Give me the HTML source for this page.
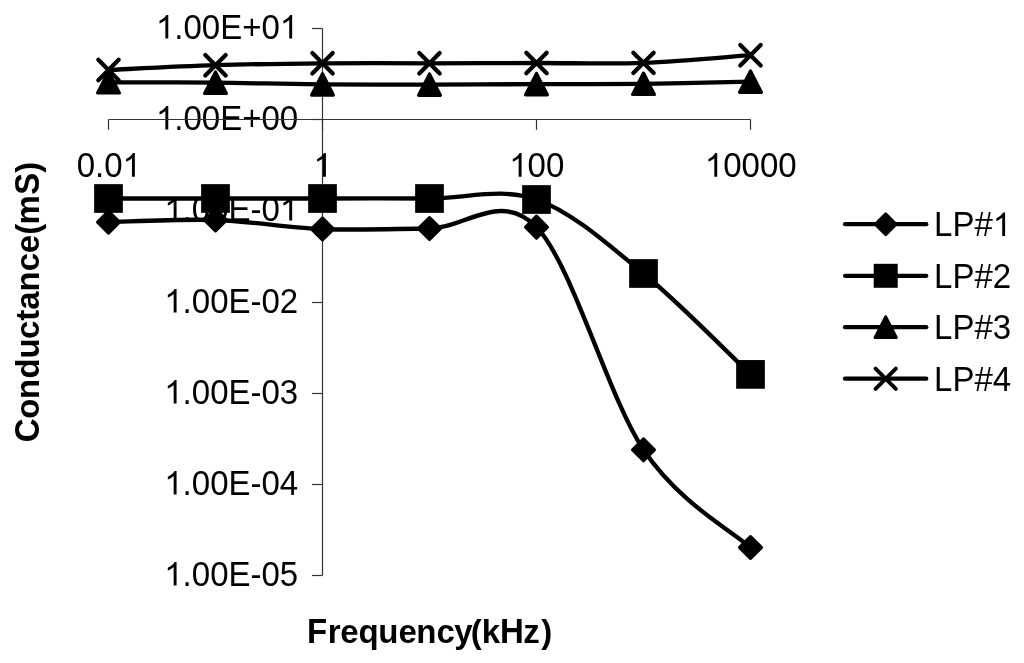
<!DOCTYPE html><html><head><meta charset="utf-8"><title>Conductance vs Frequency</title><style>
html,body{margin:0;padding:0;background:#fff;width:1024px;height:663px;overflow:hidden}
svg{display:block;will-change:transform}
text{font-family:"Liberation Sans",sans-serif;fill:#000;font-kerning:none}
path,rect{fill:#000}
.ax{stroke:#333;stroke-width:1.2;fill:none}
.ln{stroke:#000;fill:none;stroke-linejoin:round}
.m{stroke:#000;stroke-linejoin:round}
.x{stroke:#000;stroke-linecap:round;fill:none}
</style></head><body>
<svg width="1024" height="663" viewBox="0 0 1024 663">
<rect width="1024" height="663" fill="#fff" style="fill:#fff"/>
<g>
<text transform="translate(0,38.60) scale(1,1.040)" x="174.34 183.51 201.86 220.21 242.22 261.49" y="0" font-size="33">.00E+0</text><path d="M763,0L583,0L583,1147Q518,1085 412,1023Q305,961 220,930L220,1104Q371,1175 484,1276Q597,1377 644,1472L763,1472Z" transform="translate(155.98,38.60) scale(0.01611,-0.01611)"/><path d="M763,0L583,0L583,1147Q518,1085 412,1023Q305,961 220,930L220,1104Q371,1175 484,1276Q597,1377 644,1472L763,1472Z" transform="translate(279.85,38.60) scale(0.01611,-0.01611)"/>
<text transform="translate(0,129.60) scale(1,1.040)" x="174.34 183.51 201.86 220.21 242.22 261.49 279.85" y="0" font-size="33">.00E+00</text><path d="M763,0L583,0L583,1147Q518,1085 412,1023Q305,961 220,930L220,1104Q371,1175 484,1276Q597,1377 644,1472L763,1472Z" transform="translate(155.98,129.60) scale(0.01611,-0.01611)"/>
<text transform="translate(0,220.60) scale(1,1.040)" x="182.62 191.79 210.14 228.49 250.50 261.49" y="0" font-size="33">.00E-0</text><path d="M763,0L583,0L583,1147Q518,1085 412,1023Q305,961 220,930L220,1104Q371,1175 484,1276Q597,1377 644,1472L763,1472Z" transform="translate(164.27,220.60) scale(0.01611,-0.01611)"/><path d="M763,0L583,0L583,1147Q518,1085 412,1023Q305,961 220,930L220,1104Q371,1175 484,1276Q597,1377 644,1472L763,1472Z" transform="translate(279.85,220.60) scale(0.01611,-0.01611)"/>
<text transform="translate(0,312.60) scale(1,1.040)" x="182.62 191.79 210.14 228.49 250.50 261.49 279.85" y="0" font-size="33">.00E-02</text><path d="M763,0L583,0L583,1147Q518,1085 412,1023Q305,961 220,930L220,1104Q371,1175 484,1276Q597,1377 644,1472L763,1472Z" transform="translate(164.27,312.60) scale(0.01611,-0.01611)"/>
<text transform="translate(0,403.60) scale(1,1.040)" x="182.62 191.79 210.14 228.49 250.50 261.49 279.85" y="0" font-size="33">.00E-03</text><path d="M763,0L583,0L583,1147Q518,1085 412,1023Q305,961 220,930L220,1104Q371,1175 484,1276Q597,1377 644,1472L763,1472Z" transform="translate(164.27,403.60) scale(0.01611,-0.01611)"/>
<text transform="translate(0,494.60) scale(1,1.040)" x="182.62 191.79 210.14 228.49 250.50 261.49 279.85" y="0" font-size="33">.00E-04</text><path d="M763,0L583,0L583,1147Q518,1085 412,1023Q305,961 220,930L220,1104Q371,1175 484,1276Q597,1377 644,1472L763,1472Z" transform="translate(164.27,494.60) scale(0.01611,-0.01611)"/>
<text transform="translate(0,585.60) scale(1,1.040)" x="182.62 191.79 210.14 228.49 250.50 261.49 279.85" y="0" font-size="33">.00E-05</text><path d="M763,0L583,0L583,1147Q518,1085 412,1023Q305,961 220,930L220,1104Q371,1175 484,1276Q597,1377 644,1472L763,1472Z" transform="translate(164.27,585.60) scale(0.01611,-0.01611)"/>
<g class="ax">
<path class="ax" d="M322.5,28.5V575.5"/>
<path class="ax" d="M312,28.5H322.5"/>
<path class="ax" d="M312,119.5H322.5"/>
<path class="ax" d="M312,210.5H322.5"/>
<path class="ax" d="M312,302.5H322.5"/>
<path class="ax" d="M312,393.5H322.5"/>
<path class="ax" d="M312,484.5H322.5"/>
<path class="ax" d="M312,575.5H322.5"/>
<path class="ax" d="M108.5,119.5H750.5"/>
<path class="ax" d="M108.5,119.5V129.8"/>
<path class="ax" d="M322.5,119.5V129.8"/>
<path class="ax" d="M536.5,119.5V129.8"/>
<path class="ax" d="M750.5,119.5V129.8"/>
</g>
<text transform="translate(0,176.70) scale(1,1.040)" x="76.69 95.04 104.21" y="0" font-size="33">0.0</text><path d="M763,0L583,0L583,1147Q518,1085 412,1023Q305,961 220,930L220,1104Q371,1175 484,1276Q597,1377 644,1472L763,1472Z" transform="translate(122.56,176.70) scale(0.01611,-0.01611)"/>
<path d="M763,0L583,0L583,1147Q518,1085 412,1023Q305,961 220,930L220,1104Q371,1175 484,1276Q597,1377 644,1472L763,1472Z" transform="translate(313.62,176.70) scale(0.01611,-0.01611)"/>
<text transform="translate(0,176.70) scale(1,1.040)" x="527.62 545.98" y="0" font-size="33">00</text><path d="M763,0L583,0L583,1147Q518,1085 412,1023Q305,961 220,930L220,1104Q371,1175 484,1276Q597,1377 644,1472L763,1472Z" transform="translate(509.27,176.70) scale(0.01611,-0.01611)"/>
<text transform="translate(0,176.70) scale(1,1.040)" x="723.27 741.62 759.98 778.33" y="0" font-size="33">0000</text><path d="M763,0L583,0L583,1147Q518,1085 412,1023Q305,961 220,930L220,1104Q371,1175 484,1276Q597,1377 644,1472L763,1472Z" transform="translate(704.92,176.70) scale(0.01611,-0.01611)"/>
<path class="ln" d="M108.50,222.10 C126.33,221.75 179.83,218.85 215.50,220.00 C251.17,221.15 286.83,227.58 322.50,229.00 C358.17,230.42 393.83,228.82 429.50,228.50 C465.17,228.18 500.83,190.22 536.50,227.10 C572.17,263.98 607.83,396.40 643.50,449.80 C679.17,503.20 732.67,531.22 750.50,547.50" stroke-width="4.3"/>
<path class="ln" d="M108.50,198.50 C126.33,198.50 179.83,198.50 215.50,198.50 C251.17,198.50 286.83,198.50 322.50,198.50 C358.17,198.50 393.83,198.33 429.50,198.50 C465.17,198.67 500.83,187.00 536.50,199.50 C572.17,212.00 607.83,244.35 643.50,273.50 C679.17,302.65 732.67,357.58 750.50,374.40" stroke-width="4.3"/>
<path class="ln" d="M108.50,82.30 C126.33,82.37 179.83,82.35 215.50,82.70 C251.17,83.05 286.83,84.08 322.50,84.40 C358.17,84.72 393.83,84.65 429.50,84.60 C465.17,84.55 500.83,84.23 536.50,84.10 C572.17,83.97 607.83,84.22 643.50,83.80 C679.17,83.38 732.67,81.97 750.50,81.60" stroke-width="4.3"/>
<path class="ln" d="M108.50,70.00 C126.33,69.20 179.83,66.32 215.50,65.20 C251.17,64.08 286.83,63.62 322.50,63.30 C358.17,62.98 393.83,63.35 429.50,63.30 C465.17,63.25 500.83,63.07 536.50,63.00 C572.17,62.93 607.83,64.20 643.50,62.90 C679.17,61.60 732.67,56.48 750.50,55.20" stroke-width="4.3"/>
<path d="M108.50,211.20L119.40,222.10L108.50,233.00L97.60,222.10Z" stroke-width="3.2" class="m"/>
<path d="M215.50,209.10L226.40,220.00L215.50,230.90L204.60,220.00Z" stroke-width="3.2" class="m"/>
<path d="M322.50,218.10L333.40,229.00L322.50,239.90L311.60,229.00Z" stroke-width="3.2" class="m"/>
<path d="M429.50,217.60L440.40,228.50L429.50,239.40L418.60,228.50Z" stroke-width="3.2" class="m"/>
<path d="M536.50,216.20L547.40,227.10L536.50,238.00L525.60,227.10Z" stroke-width="3.2" class="m"/>
<path d="M643.50,438.90L654.40,449.80L643.50,460.70L632.60,449.80Z" stroke-width="3.2" class="m"/>
<path d="M750.50,536.60L761.40,547.50L750.50,558.40L739.60,547.50Z" stroke-width="3.2" class="m"/>
<rect x="94.15" y="184.15" width="28.70" height="28.70"/>
<rect x="201.15" y="184.15" width="28.70" height="28.70"/>
<rect x="308.15" y="184.15" width="28.70" height="28.70"/>
<rect x="415.15" y="184.15" width="28.70" height="28.70"/>
<rect x="522.15" y="185.15" width="28.70" height="28.70"/>
<rect x="629.15" y="259.15" width="28.70" height="28.70"/>
<rect x="736.15" y="360.05" width="28.70" height="28.70"/>
<path d="M108.50,71.60L119.40,93.00L97.60,93.00Z" stroke-width="3.2" class="m"/>
<path d="M215.50,72.00L226.40,93.40L204.60,93.40Z" stroke-width="3.2" class="m"/>
<path d="M322.50,73.70L333.40,95.10L311.60,95.10Z" stroke-width="3.2" class="m"/>
<path d="M429.50,73.90L440.40,95.30L418.60,95.30Z" stroke-width="3.2" class="m"/>
<path d="M536.50,73.40L547.40,94.80L525.60,94.80Z" stroke-width="3.2" class="m"/>
<path d="M643.50,73.10L654.40,94.50L632.60,94.50Z" stroke-width="3.2" class="m"/>
<path d="M750.50,70.90L761.40,92.30L739.60,92.30Z" stroke-width="3.2" class="m"/>
<path d="M98.30,59.80L118.70,80.20M98.30,80.20L118.70,59.80" stroke-width="4.2" class="x"/>
<path d="M205.30,55.00L225.70,75.40M205.30,75.40L225.70,55.00" stroke-width="4.2" class="x"/>
<path d="M312.30,53.10L332.70,73.50M312.30,73.50L332.70,53.10" stroke-width="4.2" class="x"/>
<path d="M419.30,53.10L439.70,73.50M419.30,73.50L439.70,53.10" stroke-width="4.2" class="x"/>
<path d="M526.30,52.80L546.70,73.20M526.30,73.20L546.70,52.80" stroke-width="4.2" class="x"/>
<path d="M633.30,52.70L653.70,73.10M633.30,73.10L653.70,52.70" stroke-width="4.2" class="x"/>
<path d="M740.30,45.00L760.70,65.40M740.30,65.40L760.70,45.00" stroke-width="4.2" class="x"/>
<path class="x" d="M845,224.2H926.3" stroke-width="4.2"/>
<path d="M885.70,213.70L896.20,224.20L885.70,234.70L875.20,224.20Z" stroke-width="2.8" class="m"/>
<text transform="translate(0,236.10) scale(1,1.040)" x="934.10 952.45 974.46" y="0" font-size="33">LP#</text><path d="M763,0L583,0L583,1147Q518,1085 412,1023Q305,961 220,930L220,1104Q371,1175 484,1276Q597,1377 644,1472L763,1472Z" transform="translate(992.82,236.10) scale(0.01611,-0.01611)"/>
<path class="x" d="M845,275.8H926.3" stroke-width="4.2"/>
<rect x="873.70" y="263.80" width="24.00" height="24.00"/>
<text transform="translate(0,287.70) scale(1,1.040)" x="934.10 952.45 974.46 992.82" y="0" font-size="33">LP#2</text>
<path class="x" d="M845,327.2H926.3" stroke-width="4.2"/>
<path d="M885.70,316.70L896.45,337.70L874.95,337.70Z" stroke-width="2.8" class="m"/>
<text transform="translate(0,339.10) scale(1,1.040)" x="934.10 952.45 974.46 992.82" y="0" font-size="33">LP#3</text>
<path class="x" d="M845,378.7H926.3" stroke-width="4.2"/>
<path d="M875.55,368.55L895.85,388.85M875.55,388.85L895.85,368.55" stroke-width="3.9" class="x"/>
<text transform="translate(0,390.60) scale(1,1.040)" x="934.10 952.45 974.46 992.82" y="0" font-size="33">LP#4</text>
<text transform="translate(0,642.60)" x="327.64 340.19 358.55 378.34 398.44 416.16 436.56 454.18 470.70 481.86 523.34 541.16" y="0" font-size="33" font-weight="bold">requency(kz)</text><text transform="translate(0,642.60) scale(1,1.050)" x="306.92 500.09" y="0" font-size="33" font-weight="bold">FH</text>
<text transform="translate(38.70,0) rotate(-90)" x="-418.78 -399.04 -378.57 -358.41 -339.04 -320.69 -309.86 -291.59 -271.34 -253.21 -234.80 -224.44 -172.69" y="0" font-size="33" font-weight="bold">onductance(m)</text><text transform="translate(38.70,0) rotate(-90) scale(1,1.050)" x="-442.14 -194.84" y="0" font-size="33" font-weight="bold">CS</text>
</g></svg></body></html>
